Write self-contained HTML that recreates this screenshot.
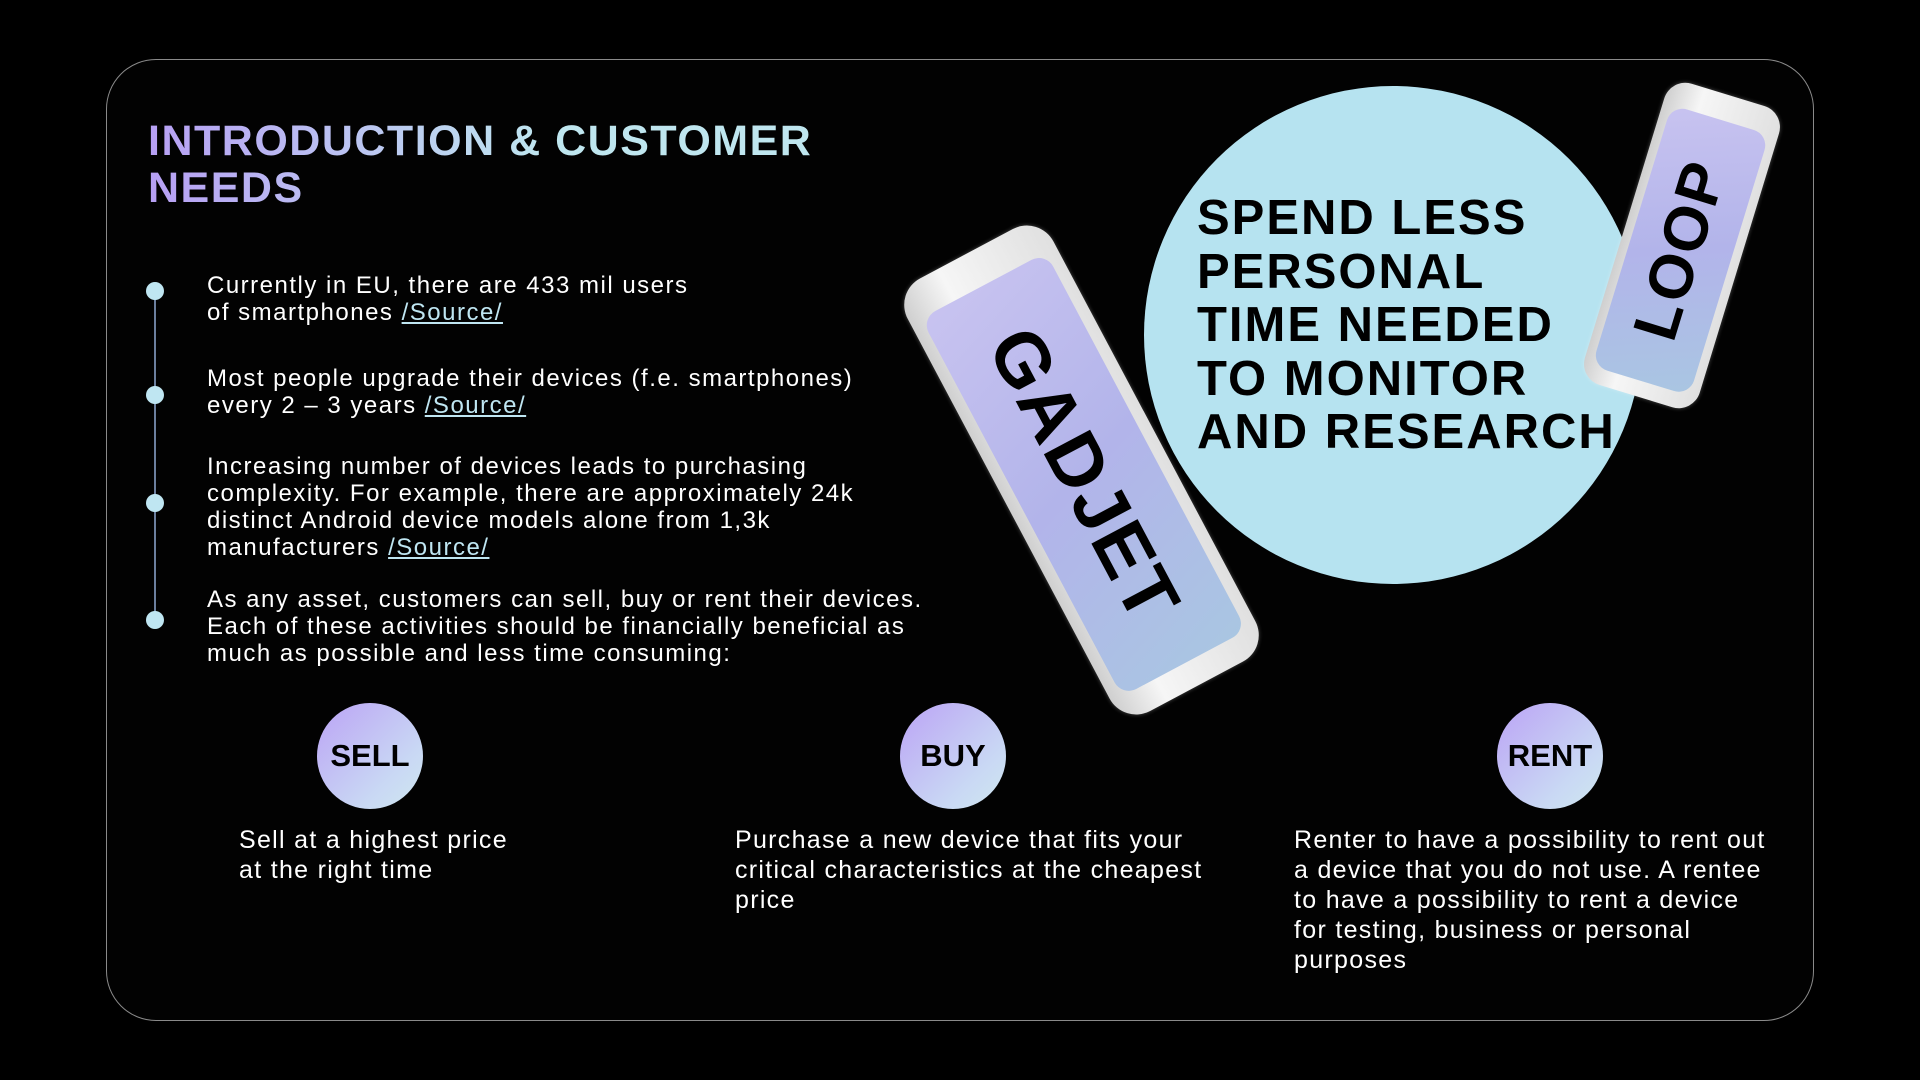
<!DOCTYPE html>
<html><head><meta charset="utf-8"><style>
*{margin:0;padding:0;box-sizing:border-box}
body{width:1920px;height:1080px;background:#000;position:relative;overflow:hidden;font-family:"Liberation Sans",sans-serif;color:#fff}
.card{position:absolute;left:106px;top:59px;width:1708px;height:962px;border:1.5px solid #8a8a8a;border-radius:50px;background:#020202}
.title{position:absolute;left:148px;top:118px;font-size:43px;font-weight:bold;line-height:47px;background:linear-gradient(90deg,#b7a0f4,#bfe6ef 60%);-webkit-background-clip:text;background-clip:text;color:transparent;letter-spacing:1.5px}
.vline{position:absolute;left:154px;top:291px;width:2px;height:329px;background:#6b7f9e}
.dot{position:absolute;left:146px;width:18px;height:18px;border-radius:50%;background:#bfe6f2}
.bt{position:absolute;left:207px;font-size:24px;line-height:27px;color:#fff;letter-spacing:1.5px}
.bt u{color:#bfe6f2}
.c{position:absolute;width:106px;height:106px;border-radius:50%;background:linear-gradient(135deg,#bba3f5,#c9d8f4 70%,#cfe8f0);color:#000;font-weight:bold;font-size:31px;display:flex;align-items:center;justify-content:center}
.d{position:absolute;top:825px;font-size:25px;line-height:30px;color:#fff;letter-spacing:1.3px}
.big{position:absolute;left:1144px;top:86px;width:498px;height:498px;border-radius:50%;background:#b6e3f0}
.bigt{position:absolute;left:1197px;top:192px;font-size:49px;line-height:53.5px;font-weight:bold;color:#000;letter-spacing:2px}
.phone{position:absolute;border-radius:30px;background:linear-gradient(90deg,#cfcfcf,#f6f6f6 30%,#e0e0e0);box-shadow:0 0 4px rgba(255,255,255,.3)}
.scr{position:absolute;border-radius:16px;background:linear-gradient(160deg,#c8c3f0,#b2b4ea 50%,#a9c6e2);display:flex;align-items:center;justify-content:center}
</style></head><body>
<div class="card"></div>
<div class="title">INTRODUCTION &amp; CUSTOMER<br>NEEDS</div>
<div class="vline"></div>
<div class="dot" style="top:282px"></div>
<div class="dot" style="top:386px"></div>
<div class="dot" style="top:494px"></div>
<div class="dot" style="top:611px"></div>
<div class="bt" style="top:272px">Currently in EU, there are 433 mil users<br>of smartphones <u>/Source/</u></div>
<div class="bt" style="top:365px">Most people upgrade their devices (f.e. smartphones)<br>every 2 – 3 years <u>/Source/</u></div>
<div class="bt" style="top:453px">Increasing number of devices leads to purchasing<br>complexity. For example, there are approximately 24k<br>distinct Android device models alone from 1,3k<br>manufacturers <u>/Source/</u></div>
<div class="bt" style="top:586px">As any asset, customers can sell, buy or rent their devices.<br>Each of these activities should be financially beneficial as<br>much as possible and less time consuming:</div>

<div class="c" style="left:317px;top:703px">SELL</div>
<div class="c" style="left:900px;top:703px">BUY</div>
<div class="c" style="left:1497px;top:703px">RENT</div>
<div class="d" style="left:239px">Sell at a highest price<br>at the right time</div>
<div class="d" style="left:735px">Purchase a new device that fits your<br>critical characteristics at the cheapest<br>price</div>
<div class="d" style="left:1294px">Renter to have a possibility to rent out<br>a device that you do not use. A rentee<br>to have a possibility to rent a device<br>for testing, business or personal<br>purposes</div>

<div class="big"></div>
<div class="bigt">SPEND LESS<br>PERSONAL<br>TIME NEEDED<br>TO MONITOR<br>AND RESEARCH</div>

<div class="phone" style="left:999px;top:225px;width:165px;height:490px;transform:rotate(-28deg)">
  <div class="scr" style="left:12px;top:36px;right:12px;bottom:26px"><div style="transform:rotate(90deg);font-size:76px;font-weight:bold;color:#000;white-space:nowrap;letter-spacing:2px">GADJET</div></div>
</div>
<div class="phone" style="left:1622px;top:88px;width:120px;height:315px;transform:rotate(17deg);border-radius:22px">
  <div class="scr" style="left:9px;top:26px;right:9px;bottom:16px"><div style="transform:rotate(-90deg);font-size:62px;font-weight:bold;color:#000;white-space:nowrap;letter-spacing:2px">LOOP</div></div>
</div>
</body></html>
